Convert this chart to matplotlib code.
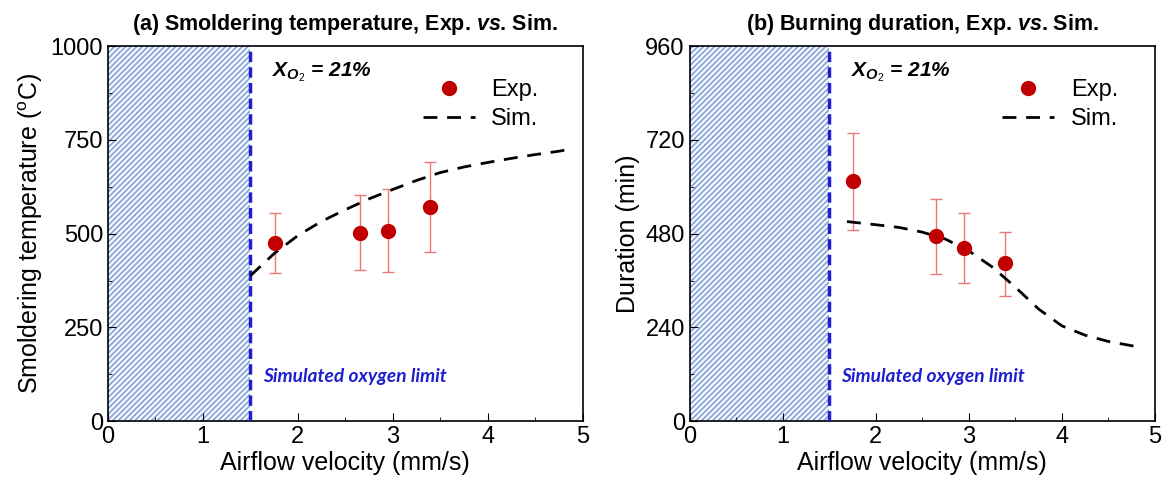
import numpy as np
import matplotlib.pyplot as plt
from matplotlib.ticker import MultipleLocator

plt.rcParams['font.family'] = ['Liberation Sans', 'DejaVu Sans']
plt.rcParams['mathtext.fontset'] = 'custom'
plt.rcParams['mathtext.rm'] = 'Liberation Sans'
plt.rcParams['mathtext.sf'] = 'Liberation Sans'
plt.rcParams['mathtext.it'] = 'Liberation Sans:italic:bold'
plt.rcParams['mathtext.bf'] = 'Liberation Sans:bold'
plt.rcParams['hatch.color'] = '#8eaadc'
plt.rcParams['hatch.linewidth'] = 1.4

# Experimental data
exp_v = [1.76, 2.65, 2.95, 3.39]
exp_temp = [476, 503, 508, 572]
exp_temp_err = [80, 100, 110, 120]
exp_dur = [616, 475, 444, 406]
exp_dur_lo = [126, 98, 90, 85]
exp_dur_hi = [121, 95, 90, 79]

# Simulation curves
sim_v_temp = [1.5, 1.75, 2.0, 2.25, 2.5, 2.75, 3.0, 3.25, 3.5, 3.75, 4.0, 4.25, 4.5, 4.75, 4.9]
sim_temp = [388, 447, 495, 533, 564, 593, 618, 642, 663, 678, 690, 701, 711, 720, 727]
sim_v_dur = [1.69, 2.0, 2.25, 2.5, 2.75, 3.0, 3.25, 3.5, 3.75, 4.0, 4.25, 4.5, 4.8]
sim_dur = [511, 503, 496, 484, 466, 436, 395, 343, 287, 244, 220, 204, 191]

limit_v = 1.5

red = '#c00000'
err_red = '#e87878'
blue = '#1f1fd0'

fig = plt.figure(figsize=(11.69, 4.92), dpi=100)
ax1 = fig.add_axes([0.0924, 0.144, 0.406, 0.762])
ax2 = fig.add_axes([0.590, 0.144, 0.398, 0.762])


def setup(ax, ymax, ymajor, title, ylabel):
    ax.set_xlim(0, 5)
    ax.set_ylim(0, ymax)
    ax.axvspan(0, limit_v, facecolor='white', edgecolor='#8eaadc',
               hatch='//////', linewidth=0, zorder=0)
    ax.axvline(limit_v, color=blue, linestyle=(0, (3, 1.5)), linewidth=2.5, zorder=3)
    ax.xaxis.set_major_locator(MultipleLocator(1))
    ax.xaxis.set_minor_locator(MultipleLocator(0.5))
    ax.yaxis.set_major_locator(MultipleLocator(ymajor))
    ax.yaxis.set_minor_locator(MultipleLocator(ymajor / 2))
    ax.tick_params(which='both', direction='in', labelsize=17)
    ax.tick_params(which='major', length=6)
    ax.tick_params(which='minor', length=3)
    for s in ax.spines.values():
        s.set_linewidth(1.2)
    ax.set_xlabel('Airflow velocity (mm/s)', fontsize=18, labelpad=2)
    ax.set_ylabel(ylabel, fontsize=18, labelpad=4)
    ax.set_title(title, fontsize=15.5, fontweight='bold', pad=12)
    ax.text(1.63, 0.105 * ymax, 'Simulated oxygen limit', color=blue,
            fontsize=13.8, fontweight='bold', style='italic', family=['Lato', 'DejaVu Sans'])
    ax.text(1.73, 0.93 * ymax, r'$X_{O_2}$ = 21%',
            fontsize=15, fontweight='bold', style='italic', va='center')


setup(ax1, 1000, 250, '(a) Smoldering temperature, Exp. $vs$. Sim.',
      'Smoldering temperature ($^{\\rm o}$C)')
setup(ax2, 960, 240, '(b) Burning duration, Exp. $vs$. Sim.',
      'Duration (min)')

ax1.errorbar(exp_v, exp_temp, yerr=exp_temp_err, fmt='none', ecolor=err_red,
             elinewidth=1, capsize=4, zorder=4)
ax1.plot(exp_v, exp_temp, 'o', color=red, markersize=10, label='Exp.', zorder=5)
ax1.plot(sim_v_temp, sim_temp, '--', color='black', linewidth=2,
         dashes=(5, 3.5), label='Sim.', zorder=4)

ax2.errorbar(exp_v, exp_dur, yerr=[exp_dur_lo, exp_dur_hi], fmt='none', ecolor=err_red,
             elinewidth=1, capsize=4, zorder=4)
ax2.plot(exp_v, exp_dur, 'o', color=red, markersize=10, label='Exp.', zorder=5)
ax2.plot(sim_v_dur, sim_dur, '--', color='black', linewidth=2,
         dashes=(5, 3.5), label='Sim.', zorder=4)

for ax, xr in ((ax1, 0.937), (ax2, 0.951)):
    ax.legend(loc='upper right', frameon=False, fontsize=17, handlelength=2.2,
              bbox_to_anchor=(xr, 0.95), borderaxespad=0.2, handletextpad=0.7,
              labelspacing=0.3)

fig.savefig('out.png', dpi=100)
